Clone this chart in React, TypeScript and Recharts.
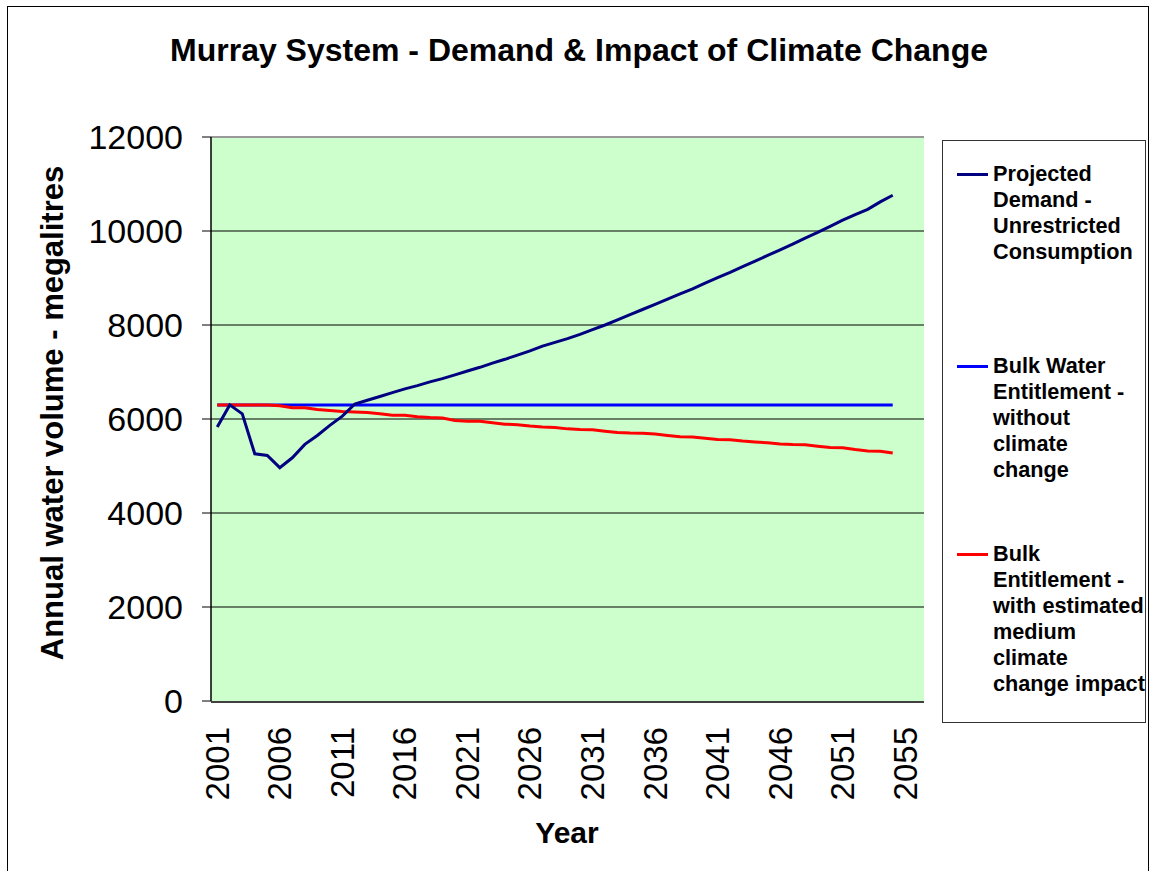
import React from 'react';
import { LineChart, Line, XAxis, YAxis, CartesianGrid, ReferenceLine, Legend } from 'recharts';

const FONT = '"Liberation Sans", Arial, sans-serif';

const title = 'Murray System - Demand & Impact of Climate Change';
const yTitle = 'Annual water volume - megalitres';
const xTitle = 'Year';

// 55 yearly data slots (category positions 0..54); the axis has 57 slots in total
const years = [
  2001, 2002, 2003, 2004, 2005, 2006, 2007, 2008, 2009, 2010,
  2011, 2012, 2013, 2014, 2015, 2016, 2017, 2018, 2019, 2020,
  2021, 2022, 2023, 2024, 2025, 2026, 2027, 2028, 2029, 2030,
  2031, 2032, 2033, 2034, 2035, 2036, 2037, 2038, 2039, 2040,
  2041, 2042, 2043, 2044, 2045, 2046, 2047, 2048, 2049, 2050,
  2051, 2052, 2053, 2054, 2055,
];
const slotCount = 57;

const xTickLabels = ['2001', '2006', '2011', '2016', '2021', '2026', '2031', '2036', '2041', '2046', '2051', '2055'];
const xTickSlots = [0, 5, 10, 15, 20, 25, 30, 35, 40, 45, 50, 55];
const yTicks = [0, 2000, 4000, 6000, 8000, 10000, 12000];
const yGrid = [2000, 4000, 6000, 8000, 10000];

const demand = [
  5830, 6300, 6110, 5260, 5225, 4965, 5175, 5460, 5650, 5865,
  6060, 6320, 6400, 6480, 6560, 6640, 6710, 6790, 6860, 6940,
  7020, 7100, 7190, 7270, 7360, 7450, 7550, 7630, 7710, 7800,
  7900, 8000, 8110, 8220, 8330, 8440, 8550, 8660, 8770, 8890,
  9010, 9120, 9240, 9360, 9480, 9600, 9720, 9850, 9970, 10100,
  10230, 10350, 10460, 10620, 10760,
];
const bulk = [
  6300, 6300, 6300, 6300, 6300, 6300, 6300, 6300, 6300, 6300,
  6300, 6300, 6300, 6300, 6300, 6300, 6300, 6300, 6300, 6300,
  6300, 6300, 6300, 6300, 6300, 6300, 6300, 6300, 6300, 6300,
  6300, 6300, 6300, 6300, 6300, 6300, 6300, 6300, 6300, 6300,
  6300, 6300, 6300, 6300, 6300, 6300, 6300, 6300, 6300, 6300,
  6300, 6300, 6300, 6300, 6300,
];
const bulkClimate = [
  6300, 6300, 6300, 6300, 6300, 6280, 6240, 6240, 6200, 6180,
  6160, 6150, 6140, 6110, 6080, 6080, 6050, 6030, 6020, 5970,
  5950, 5950, 5920, 5890, 5880, 5850, 5830, 5820, 5790, 5775,
  5770, 5740, 5715, 5700, 5695, 5680, 5650, 5620, 5615, 5590,
  5565, 5560, 5530, 5510, 5495, 5470, 5455, 5450, 5420, 5395,
  5390, 5350, 5320, 5315, 5275,
];

const seriesNames = [
  'Projected Demand - Unrestricted Consumption',
  'Bulk Water Entitlement - without climate change',
  'Bulk Entitlement - with estimated medium climate change impact',
];
const legendLines = [
  ['Projected', 'Demand -', 'Unrestricted', 'Consumption'],
  ['Bulk Water', 'Entitlement -', 'without', 'climate', 'change'],
  ['Bulk', 'Entitlement -', 'with estimated', 'medium', 'climate', 'change impact'],
];
const seriesColors = ['#000080', '#0000FF', '#FF0000'];

const data = years.map((y, i) => ({
  slot: i,
  year: y,
  demand: demand[i],
  bulk: bulk[i],
  bulkClimate: bulkClimate[i],
}));

const boundaryTicks = Array.from({ length: slotCount + 1 }, (_, i) => i - 0.5);

const XTick = (props: any) => {
  const { x, y, payload } = props;
  const k = xTickSlots.indexOf(payload.value);
  if (k < 0) return null;
  return (
    <text
      x={x}
      y={y}
      transform={`rotate(-90 ${x} ${y})`}
      textAnchor="end"
      dominantBaseline="central"
      fontSize={33}
      fontFamily={FONT}
      fill="#000"
    >
      {xTickLabels[k]}
    </text>
  );
};

const entryTops = [20, 212, 400];

const LegendBox = () => (
  <div
    style={{
      position: 'relative',
      width: 204,
      height: 583,
      border: '1px solid #333',
      boxSizing: 'border-box',
      background: '#fff',
      fontFamily: FONT,
    }}
  >
    {legendLines.map((lines, i) => (
      <div key={seriesNames[i]} style={{ position: 'absolute', left: 0, top: entryTops[i], width: 204 }}>
        <div
          style={{
            position: 'absolute',
            left: 14,
            top: 12,
            width: 31,
            height: 3,
            background: seriesColors[i],
          }}
        />
        <div
          style={{
            position: 'absolute',
            left: 50,
            top: 0,
            fontWeight: 'bold',
            fontSize: 21.7,
            lineHeight: '26px',
            whiteSpace: 'nowrap',
            color: '#000',
          }}
        >
          {lines.map((l) => (
            <div key={l}>{l}</div>
          ))}
        </div>
      </div>
    ))}
  </div>
);

export default function App() {
  return (
    <div>
      <div
        style={{
          position: 'absolute',
          left: 7,
          top: 6,
          width: 1142,
          height: 865,
          borderTop: '1px solid #000',
          borderLeft: '1px solid #000',
          borderRight: '1px solid #000',
          boxSizing: 'border-box',
          background: '#fff',
        }}
      />
      <div style={{ position: 'absolute', left: 0, top: 0 }}>
        <LineChart
          width={1150}
          height={871}
          data={data}
          margin={{ top: 137, right: 226, bottom: 168, left: 0 }}
        >
          <CartesianGrid
            xAxisId="ticks"
            vertical={false}
            horizontal
            stroke="#000"
            strokeWidth={1}
            fill="#CCFFCC"
            fillOpacity={1}
            horizontalValues={yGrid}
          />
          <XAxis
            xAxisId="ticks"
            type="number"
            domain={[-0.5, slotCount - 0.5]}
            ticks={boundaryTicks}
            interval={0}
            height={1}
            tick={false}
            tickSize={8}
            axisLine={{ stroke: '#000', strokeWidth: 1.5 }}
            tickLine={{ stroke: '#000', strokeWidth: 1 }}
            allowDataOverflow
          />
          <XAxis
            xAxisId="data"
            dataKey="slot"
            type="number"
            domain={[-0.5, slotCount - 0.5]}
            ticks={xTickSlots}
            interval={0}
            height={1}
            axisLine={false}
            tickLine={false}
            tickSize={0}
            tickMargin={26}
            tick={<XTick />}
            allowDataOverflow
          />
          <YAxis
            width={211}
            domain={[0, 12000]}
            ticks={yTicks}
            interval={0}
            tickSize={9}
            tickMargin={19}
            axisLine={{ stroke: '#000', strokeWidth: 1.5 }}
            tickLine={{ stroke: '#000', strokeWidth: 1 }}
            tick={{ fontSize: 34, fontFamily: FONT, fill: '#000' }}
          />
          <ReferenceLine xAxisId="ticks" y={12000} stroke="#999" strokeWidth={2} />
          <ReferenceLine xAxisId="ticks" x={slotCount - 0.5} stroke="#999" strokeWidth={2} />
          <Line
            xAxisId="data"
            dataKey="bulk"
            name={seriesNames[1]}
            stroke={seriesColors[1]}
            strokeWidth={3}
            dot={false}
            isAnimationActive={false}
          />
          <Line
            xAxisId="data"
            dataKey="bulkClimate"
            name={seriesNames[2]}
            stroke={seriesColors[2]}
            strokeWidth={3}
            dot={false}
            isAnimationActive={false}
          />
          <Line
            xAxisId="data"
            dataKey="demand"
            name={seriesNames[0]}
            stroke={seriesColors[0]}
            strokeWidth={3}
            dot={false}
            isAnimationActive={false}
          />
          <Legend
            layout="vertical"
            align="center"
            verticalAlign="middle"
            wrapperStyle={{ position: 'absolute', left: 942, top: 140, width: 204, height: 583 }}
            content={() => <LegendBox />}
          />
        </LineChart>
      </div>
      <svg
        width={1150}
        height={871}
        style={{ position: 'absolute', left: 0, top: 0, pointerEvents: 'none' }}
      >
        <text x={579} y={61} textAnchor="middle" fontSize={32} fontWeight="bold" fontFamily={FONT} fill="#000">
          {title}
        </text>
        <text
          x={63}
          y={413}
          transform="rotate(-90 63 413)"
          textAnchor="middle"
          fontSize={31}
          fontWeight="bold"
          fontFamily={FONT}
          fill="#000"
        >
          {yTitle}
        </text>
        <text x={567} y={843} textAnchor="middle" fontSize={30} fontWeight="bold" fontFamily={FONT} fill="#000">
          {xTitle}
        </text>
      </svg>
    </div>
  );
}
